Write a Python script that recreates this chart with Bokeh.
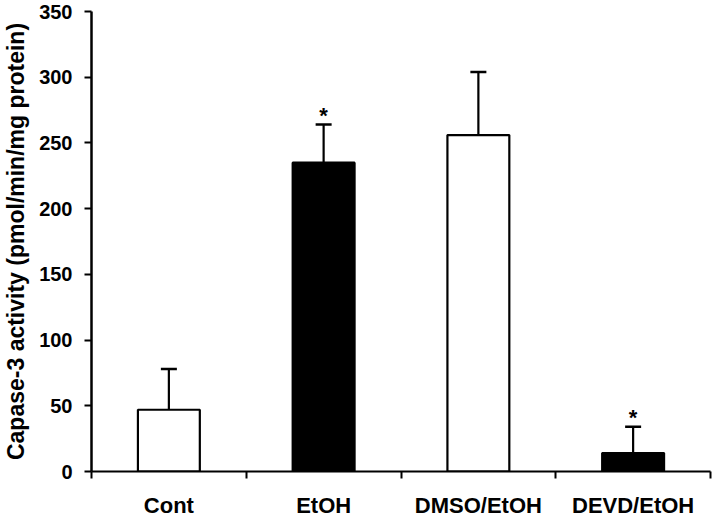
from bokeh.plotting import figure
from bokeh.models import Range1d, FixedTicker, Whisker, TeeHead, ColumnDataSource
from bokeh.core.properties import value
from bokeh.embed import file_html
from bokeh.resources import INLINE

categories = ["Cont", "EtOH", "DMSO/EtOH", "DEVD/EtOH"]
activity = [47, 235, 256, 14]
sem = [31, 29, 48, 20]
significance = ["", "*", "", "*"]
bar_colors = ["white", "black", "white", "black"]
y_ticks = [0, 50, 100, 150, 200, 250, 300, 350]

centers = [i + 0.5 for i in range(len(categories))]
boundaries = list(range(len(categories) + 1))
upper = [a + s for a, s in zip(activity, sem)]
src = ColumnDataSource(dict(x=centers, top=activity, upper=upper,
                            color=bar_colors, sig=significance))

FONT = "Liberation Sans"

p = figure(width=712, height=520, output_backend="svg", toolbar_location=None,
           x_range=Range1d(0, len(categories)), y_range=Range1d(0, 350),
           min_border_left=87, min_border_right=2, min_border_top=11,
           min_border_bottom=48)
p.outline_line_color = None
p.grid.visible = False
p.background_fill_color = "white"
p.border_fill_color = "white"

p.vbar(x="x", top="top", bottom=0, width=0.4, fill_color="color",
       line_color="black", line_width=2.2, source=src)

p.add_layout(Whisker(source=src, base="x", upper="upper", lower="top",
                     line_width=2.2, line_color="black",
                     upper_head=TeeHead(size=16, line_width=2.5, line_color="black"),
                     lower_head=None))

p.text(x="x", y="upper", text="sig", source=src, text_font=value(FONT),
       text_font_style="bold", text_font_size="22px", text_align="center",
       text_baseline="middle", y_offset=-9, text_color="black")

# x axis
xa = p.xaxis[0]
xa.ticker = FixedTicker(ticks=centers, minor_ticks=boundaries)
xa.major_label_overrides = {c: cat for c, cat in zip(centers, categories)}
xa.major_tick_line_color = None
xa.minor_tick_in = 0
xa.minor_tick_out = 7
xa.minor_tick_line_width = 2
xa.minor_tick_line_color = "black"
xa.axis_line_width = 2
xa.axis_line_color = "black"
xa.major_label_text_font = FONT
xa.major_label_text_font_style = "bold"
xa.major_label_text_font_size = "22px"
xa.major_label_text_color = "black"
xa.major_label_standoff = 14

# y axis
ya = p.yaxis[0]
ya.ticker = FixedTicker(ticks=y_ticks, minor_ticks=[])
ya.major_tick_in = 0
ya.major_tick_out = 7
ya.major_tick_line_width = 2
ya.major_tick_line_color = "black"
ya.axis_line_width = 2.5
ya.axis_line_color = "black"
ya.major_label_text_font = FONT
ya.major_label_text_font_style = "bold"
ya.major_label_text_font_size = "20px"
ya.major_label_text_color = "black"
ya.major_label_standoff = 12
ya.axis_label = "Capase-3 activity (pmol/min/mg protein)"
ya.axis_label_text_font = FONT
ya.axis_label_text_font_style = "bold"
ya.axis_label_text_font_size = "23px"
ya.axis_label_text_color = "black"
ya.axis_label_standoff = 7

open("out.html", "w").write(file_html(p, INLINE))
